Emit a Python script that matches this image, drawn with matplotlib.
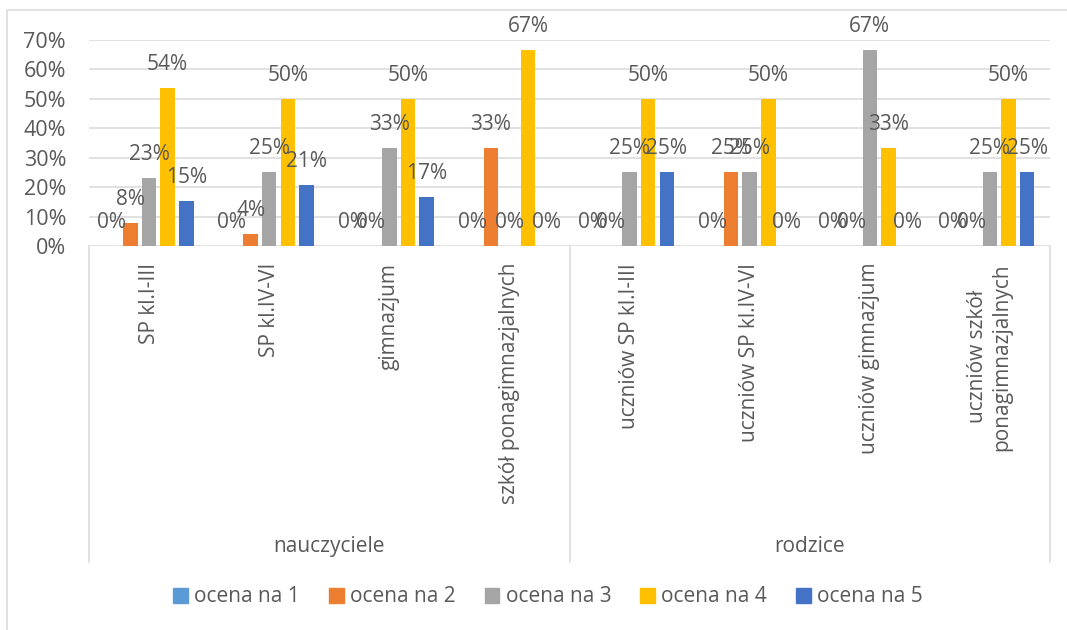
import numpy as np
import matplotlib
matplotlib.use('Agg')
import matplotlib.pyplot as plt
from matplotlib.patches import Patch
from matplotlib.lines import Line2D
from matplotlib.transforms import blended_transform_factory
from matplotlib.ticker import PercentFormatter

plt.rcParams['font.family'] = ['Open Sans', 'DejaVu Sans']

categories = ['SP kl.I-III', 'SP kl.IV-VI', 'gimnazjum', 'szkół ponagimnazjalnych',
              'uczniów SP kl.I-III', 'uczniów SP kl.IV-VI', 'uczniów gimnazjum',
              'uczniów szkół\nponagimnazjalnych']
groups = ['nauczyciele', 'rodzice']
series = ['ocena na 1', 'ocena na 2', 'ocena na 3', 'ocena na 4', 'ocena na 5']

ocena_1 = [0, 0, 0, 0, 0, 0, 0, 0]
ocena_2 = [0.0769, 0.0417, 0, 0.3333, 0, 0.25, 0, 0]
ocena_3 = [0.2308, 0.25, 0.3333, 0, 0.25, 0.25, 0.6667, 0.25]
ocena_4 = [0.5385, 0.5, 0.5, 0.6667, 0.5, 0.5, 0.3333, 0.5]
ocena_5 = [0.1538, 0.2083, 0.1667, 0, 0.25, 0, 0, 0.25]
values = [ocena_1, ocena_2, ocena_3, ocena_4, ocena_5]

colors = ['#5B9BD5', '#ED7D31', '#A5A5A5', '#FFC000', '#4472C4']
text_color = '#595959'
grid_color = '#D9D9D9'
fs = 15

W, H = 1067, 630
fig = plt.figure(figsize=(W / 100, H / 100), dpi=100)
fig.patch.set_facecolor('white')
ax = fig.add_axes([89 / W, 1 - 246 / H, 961 / W, 206 / H])

x = np.arange(len(categories))
pitch = 0.155
width = 0.121
for i, (name, vals, col) in enumerate(zip(series, values, colors)):
    offs = (i - 2) * pitch
    ax.bar(x + offs, vals, width, color=col, zorder=3, label=name)
    for xi, v in zip(x, vals):
        ax.annotate(f'{v:.0%}', (xi + offs, v), xytext=(0, 18),
                    textcoords='offset pixels', ha='center', va='baseline',
                    fontsize=fs, color=text_color, zorder=5)

ax.set_xlim(-0.5, len(categories) - 0.5)
ax.set_ylim(0, 0.7)
ax.set_yticks(np.arange(0, 0.71, 0.1))
ax.yaxis.set_major_formatter(PercentFormatter(1.0, decimals=0))
ax.set_xticks([])
ax.tick_params(axis='y', length=0, pad=16.5, labelsize=15.5, labelcolor=text_color)
for s in ax.spines.values():
    s.set_visible(False)
ax.set_axisbelow(True)
ax.yaxis.grid(True, color=grid_color, lw=1.1)

# category axis below the plot
tr = blended_transform_factory(ax.transData, ax.transAxes)
box_bottom = -(562 - 246) / 206
for xb in [-0.5, 3.5, 7.5]:
    ax.plot([xb, xb], [0, box_bottom], transform=tr, color=grid_color,
            lw=1.1, clip_on=False)
for xi, cat in zip(x, categories):
    ax.text(xi, -(263 - 246) / 206, cat, transform=tr, rotation=90,
            ha='center', va='top', multialignment='center',
            fontsize=fs, color=text_color)
for gx, g in zip([1.5, 5.5], groups):
    ax.text(gx, -(547 - 246) / 206, g, transform=tr, ha='center',
            va='center', fontsize=fs, color=text_color)

handles = [Patch(color=c) for c in colors]
fig.legend(handles, series, loc='center', bbox_to_anchor=(548 / W, 1 - 597 / H),
           ncol=5, frameon=False, fontsize=fs, handlelength=0.7,
           handleheight=0.7, handletextpad=0.3, columnspacing=1.4,
           labelcolor=text_color)

# outer chart frame
fig.add_artist(Line2D([7 / W, 7 / W, 1], [0, 1 - 10 / H, 1 - 10 / H],
                      transform=fig.transFigure, color=grid_color, lw=1.1))

fig.savefig('out.png', dpi=100)
